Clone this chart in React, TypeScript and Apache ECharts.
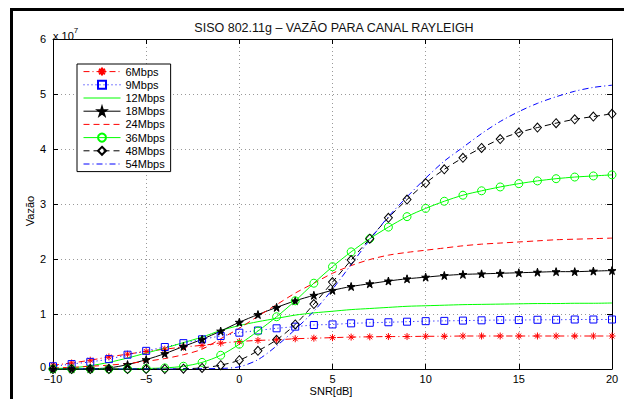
import React, { useEffect, useRef } from "react";
import * as echarts from "echarts";

const SNR = [-10, -9, -8, -7, -6, -5, -4, -3, -2, -1, 0, 1, 2, 3, 4, 5, 6, 7, 8, 9, 10, 11, 12, 13, 14, 15, 16, 17, 18, 19, 20];

// Throughput in units of 1e7 bit/s
const r6 = [0.07, 0.11, 0.16, 0.22, 0.27, 0.32, 0.36, 0.40, 0.43, 0.47, 0.50, 0.52, 0.53, 0.55, 0.56, 0.57, 0.58, 0.585, 0.59, 0.59, 0.595, 0.595, 0.6, 0.6, 0.6, 0.6, 0.6, 0.6, 0.6, 0.6, 0.6];
const r9 = [0.05, 0.09, 0.13, 0.18, 0.26, 0.33, 0.40, 0.47, 0.54, 0.60, 0.66, 0.70, 0.74, 0.77, 0.80, 0.81, 0.83, 0.84, 0.85, 0.86, 0.87, 0.875, 0.88, 0.885, 0.89, 0.89, 0.895, 0.895, 0.9, 0.9, 0.9];
const r12 = [0.01, 0.02, 0.06, 0.12, 0.2, 0.29, 0.38, 0.48, 0.58, 0.7, 0.79, 0.86, 0.92, 0.98, 1.02, 1.05, 1.08, 1.1, 1.12, 1.14, 1.15, 1.16, 1.17, 1.175, 1.18, 1.185, 1.19, 1.19, 1.195, 1.195, 1.2];
const r18 = [0, 0, 0.005, 0.02, 0.08, 0.17, 0.28, 0.41, 0.54, 0.69, 0.85, 0.99, 1.12, 1.24, 1.34, 1.43, 1.50, 1.55, 1.60, 1.64, 1.67, 1.70, 1.72, 1.73, 1.74, 1.75, 1.76, 1.77, 1.77, 1.78, 1.79];
const r24 = [0.02, 0.03, 0.05, 0.07, 0.1, 0.14, 0.19, 0.26, 0.36, 0.55, 0.74, 0.96, 1.17, 1.38, 1.56, 1.74, 1.88, 1.99, 2.07, 2.12, 2.16, 2.2, 2.24, 2.27, 2.29, 2.31, 2.33, 2.35, 2.36, 2.37, 2.38];
const r36 = [0, 0, 0, 0, 0.003, 0.01, 0.02, 0.05, 0.12, 0.25, 0.45, 0.69, 0.95, 1.24, 1.56, 1.86, 2.13, 2.37, 2.58, 2.77, 2.92, 3.05, 3.16, 3.24, 3.31, 3.37, 3.42, 3.46, 3.49, 3.51, 3.53];
const r48 = [0, 0, 0, 0, 0, 0, 0, 0.005, 0.02, 0.07, 0.16, 0.33, 0.53, 0.81, 1.18, 1.58, 1.98, 2.37, 2.75, 3.08, 3.38, 3.63, 3.84, 4.02, 4.18, 4.30, 4.39, 4.47, 4.54, 4.59, 4.64];
const r54 = [0, 0, 0, 0, 0, 0, 0, 0, 0.005, 0.01, 0.04, 0.17, 0.42, 0.72, 1.05, 1.45, 1.9, 2.35, 2.77, 3.13, 3.47, 3.78, 4.03, 4.28, 4.5, 4.68, 4.83, 4.95, 5.05, 5.12, 5.16];

const X_TICKS = [-10, -5, 0, 5, 10, 15, 20];
const Y_TICKS = [0, 1, 2, 3, 4, 5, 6];

const FONT = "Liberation Sans";
const ASTERISK = "path://M0,5L10,5M5,0L5,10M1.5,1.5L8.5,8.5M8.5,1.5L1.5,8.5";
const STAR = "path://M50,0L61,35L98,35L68,57L79,91L50,70L21,91L32,57L2,35L39,35Z";

function pairs(vals: number[]) {
  return SNR.map((x, i) => [x, vals[i]]);
}

export default function App() {
  const ref = useRef<HTMLDivElement>(null);
  useEffect(() => {
    document.body.style.margin = "0";
    const chart = echarts.init(ref.current!, null, { renderer: "svg" });
    const mk = (
      name: string,
      vals: number[],
      color: string,
      type: any,
      symbol: string,
      size: any,
      filled = false
    ) => ({
      name,
      type: "line",
      data: pairs(vals),
      smooth: 0.3,
      symbol,
      symbolSize: size,
      showSymbol: symbol !== "none",
      lineStyle: { color, width: 1, type },
      itemStyle: {
        color: filled ? color : "rgba(0,0,0,0)",
        borderColor: color,
        borderWidth: 1,
      },
      emphasis: { disabled: true },
      z: 3,
    });
    const dashDot = [6, 3, 1, 3];
    const dotted = [1, 3];
    const dashed = [6, 4];
    const series = [
      mk("6Mbps", r6, "#ff0000", dashDot, ASTERISK, 7),
      mk("9Mbps", r9, "#0000ff", dotted, "rect", 7),
      mk("12Mbps", r12, "#00ff00", "solid", "none", 0),
      mk("18Mbps", r18, "#000000", "solid", STAR, 8, true),
      mk("24Mbps", r24, "#ff0000", dashed, "none", 0),
      mk("36Mbps", r36, "#00ff00", "solid", "circle", 8),
      mk("48Mbps", r48, "#000000", dashed, "diamond", [8, 9]),
      mk("54Mbps", r54, "#0000ff", dashDot, "none", 0),
    ];
    const legendData = series.map((s) =>
      s.symbol === "none"
        ? { name: s.name, itemStyle: { color: "rgba(0,0,0,0)", borderColor: "rgba(0,0,0,0)", borderWidth: 0, opacity: 0 } }
        : { name: s.name }
    );
    const axisCommon = {
      type: "value",
      axisLine: { show: true, onZero: false, lineStyle: { color: "#000", width: 1 } },
      axisTick: { show: true, inside: true, length: 5, lineStyle: { color: "#000" } },
    };
    chart.setOption({
      animation: false,
      backgroundColor: "#fff",
      grid: { left: 53, top: 39, right: 12, bottom: 30, containLabel: false },
      legend: {
        orient: "vertical",
        left: 77,
        top: 64,
        padding: [1, 6, 1, 6],
        itemWidth: 37,
        itemHeight: 10,
        itemGap: 0,
        backgroundColor: "#fff",
        borderColor: "#000",
        borderWidth: 1,
        lineStyle: { width: 1 },
        textStyle: { fontFamily: FONT, fontSize: 11, color: "#000", lineHeight: 13.2 },
        data: legendData,
      },
      xAxis: [
        {
          ...axisCommon,
          position: "bottom",
          min: -10,
          max: 20,
          interval: 5,
          axisLabel: {
            fontFamily: FONT,
            fontSize: 11,
            lineHeight: 11,
            color: "#000",
            margin: 4,
            formatter: (v: number) => (X_TICKS.includes(v) ? String(v).replace("-", "\u2212") : ""),
          },
          splitLine: { show: true, lineStyle: { color: "#999", width: 1, type: [1, 3] } },
        },
        {
          ...axisCommon,
          position: "top",
          min: -10,
          max: 20,
          interval: 5,
          axisLabel: { show: false },
          splitLine: { show: false },
        },
      ],
      yAxis: [
        {
          ...axisCommon,
          position: "left",
          min: 0,
          max: 6,
          interval: 1,
          axisLabel: {
            fontFamily: FONT,
            fontSize: 11,
            lineHeight: 11,
            color: "#000",
            margin: 7,
            formatter: (v: number) =>
              v === 0 ? "{z|0}" : Y_TICKS.includes(v) ? String(v) : "",
            rich: {
              z: { fontFamily: FONT, fontSize: 11, lineHeight: 11, color: "#000", padding: [0, 0, 4, 0] },
            },
          },
          splitLine: { show: true, lineStyle: { color: "#999", width: 1, type: [1, 3] } },
        },
        {
          ...axisCommon,
          position: "right",
          min: 0,
          max: 6,
          interval: 1,
          axisLabel: { show: false },
          splitLine: { show: false },
        },
      ],
      series,
      graphic: [
        { type: "line", shape: { x1: 10, y1: 9.5, x2: 624, y2: 9.5 }, style: { stroke: "#000", lineWidth: 3 }, silent: true },
        { type: "line", shape: { x1: 11.5, y1: 8, x2: 11.5, y2: 399 }, style: { stroke: "#000", lineWidth: 3 }, silent: true },
        {
          type: "text",
          x: 334,
          y: 28,
          style: {
            text: "SISO 802.11g \u2013 VAZÃO PARA CANAL RAYLEIGH",
            fontFamily: FONT,
            fontSize: 12.5,
            fill: "#111",
            align: "center",
            verticalAlign: "middle",
          },
        },
        {
          type: "text",
          x: 53,
          y: 26,
          style: {
            text: "{a|x 10}{b|7}",
            rich: {
              a: { fontFamily: FONT, fontSize: 11, fill: "#000", padding: [4, 0, 0, 0] },
              b: { fontFamily: FONT, fontSize: 8, fill: "#000", verticalAlign: "top", padding: [0, 0, 6, 0] },
            },
          },
        },
        {
          type: "text",
          x: 30,
          y: 211,
          rotation: Math.PI / 2,
          style: {
            text: "Vazão",
            fontFamily: FONT,
            fontSize: 11,
            fill: "#000",
            align: "center",
            verticalAlign: "middle",
          },
        },
        {
          type: "text",
          x: 331,
          y: 391,
          style: {
            text: "SNR[dB]",
            fontFamily: FONT,
            fontSize: 11,
            fill: "#000",
            align: "center",
            verticalAlign: "middle",
          },
        },
      ],
    });
    return () => chart.dispose();
  }, []);
  return <div ref={ref} style={{ width: 624, height: 399 }} />;
}
